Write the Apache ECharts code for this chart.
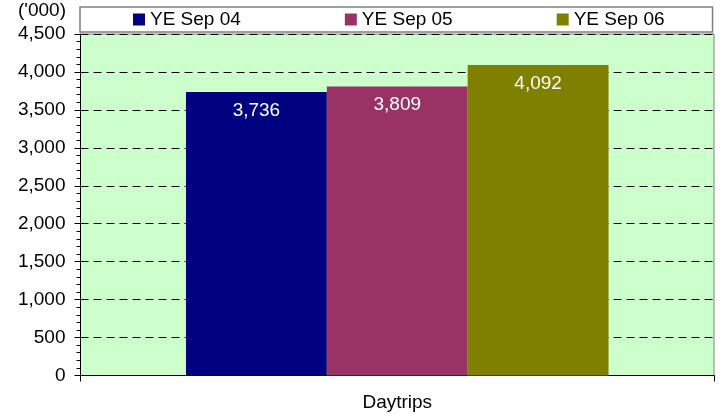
<!DOCTYPE html>
<html lang="en">

<head>
    <meta charset="UTF-8">
    <title>Daytrips</title>
    <script type="text/javascript" src="https://cdn.jsdelivr.net/npm/echarts@6/dist/echarts.min.js"></script>
    <style>
        html,
        body {
            margin: 0;
            padding: 0;
            width: 100%;
            height: 100%;
            background: #fff;
        }

        #container {
            width: 720px;
            height: 414px;
        }
    </style>
</head>

<body>
    <div id="container"></div>
    <script>
        let categories = ['Daytrips'];
        let seriesNames = ['YE Sep 04', 'YE Sep 05', 'YE Sep 06'];
        let seriesValues = [[3736], [3809], [4092]];
        let colors = ['#000080', '#993366', '#808000'];

        let font = '"Liberation Sans", Arial, sans-serif';
        let fmt = v => Number(v).toLocaleString('en-US');

        let chart = echarts.init(document.getElementById('container'));
        let option = {
            animation: false,
            textStyle: { fontFamily: font },
            title: {
                text: "('000)",
                left: 18,
                top: 1,
                padding: 0,
                textStyle: { fontSize: 19, fontWeight: 'normal', color: '#000', fontFamily: font },
            },
            legend: {
                data: seriesNames,
                left: 80,
                top: 7,
                icon: 'rect',
                itemWidth: 12,
                itemHeight: 12,
                itemGap: 104,
                padding: [3, 48, 3, 53],
                borderColor: '#808080',
                borderWidth: 1.5,
                backgroundColor: '#fff',
                textStyle: { fontSize: 19, color: '#000', fontFamily: font },
            },
            grid: {
                left: 80.5,
                right: 6,
                top: 34,
                bottom: 38.5,
                show: true,
                backgroundColor: '#ccffcc',
                borderColor: '#808080',
                borderWidth: 1,
            },
            xAxis: {
                type: 'category',
                data: categories,
                axisLine: { lineStyle: { color: '#000', width: 1 } },
                axisTick: { show: true, length: 6, lineStyle: { color: '#000' } },
                axisLabel: { fontSize: 19, color: '#000', margin: 18 },
            },
            yAxis: {
                type: 'value',
                min: 0,
                max: 4500,
                interval: 500,
                axisLine: { show: true, lineStyle: { color: '#000', width: 1 } },
                axisTick: { show: true, length: 6, lineStyle: { color: '#000' } },
                minorTick: { show: true, splitNumber: 5, length: 4, lineStyle: { color: '#000' } },
                splitLine: { show: true, lineStyle: { color: '#000', type: [8, 5], width: 1 } },
                axisLabel: { fontSize: 19, color: '#000', margin: 15, formatter: fmt },
            },
            series: seriesNames.map((name, i) => ({
                name: name,
                type: 'bar',
                data: seriesValues[i],
                barGap: 0,
                barCategoryGap: '33.3%',
                itemStyle: { color: colors[i] },
                label: {
                    show: true,
                    position: 'insideTop',
                    distance: 9,
                    color: '#fff',
                    fontSize: 19,
                    fontFamily: font,
                    formatter: p => fmt(p.value),
                },
            })),
        };
        chart.setOption(option);
    </script>
</body>

</html>
